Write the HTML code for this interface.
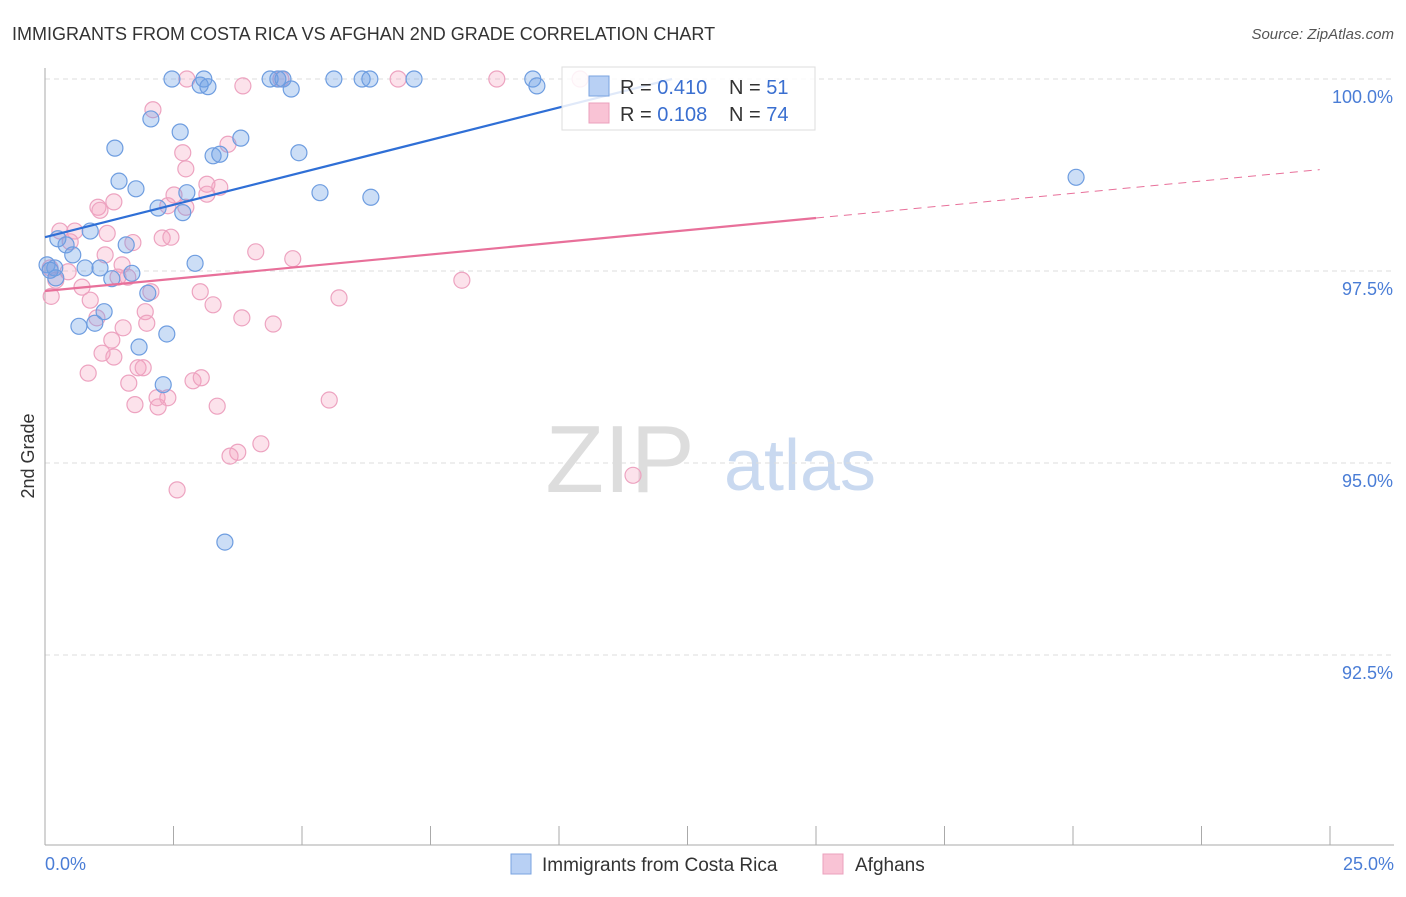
<!DOCTYPE html>
<html><head><meta charset="utf-8"><style>
body{margin:0;background:#fff;font-family:"Liberation Sans",sans-serif;}
svg text{font-family:"Liberation Sans",sans-serif;}
</style></head><body>
<svg id="chart" width="1406" height="892">
<text x="12" y="40" font-size="18" fill="#333">IMMIGRANTS FROM COSTA RICA VS AFGHAN 2ND GRADE CORRELATION CHART</text>
<text x="1394" y="39" font-size="15" fill="#555" font-style="italic" text-anchor="end">Source: ZipAtlas.com</text>
<text x="34" y="456" font-size="18" fill="#333" transform="rotate(-90 34 456)" text-anchor="middle">2nd Grade</text>
<text x="620" y="492" font-size="96" fill="#ddd" font-family="Liberation Serif" text-anchor="middle">ZIP</text>
<text x="800" y="490" font-size="72" fill="#c9d9f0" text-anchor="middle">atlas</text>
<g id="grid"></g><g id="pts"></g><g id="lines"></g>
<g>
<rect x="562" y="67" width="253" height="63" fill="rgba(255,255,255,0.85)" stroke="#ddd"/>
<rect x="589" y="76" width="20" height="20" fill="#b8d0f4" stroke="#7aa3e0"/>
<rect x="589" y="103" width="20" height="20" fill="#f9c3d5" stroke="#eba0bd"/>
<text x="620" y="94" font-size="20" fill="#333">R = <tspan fill="#3a6fd0">0.410</tspan></text>
<text x="729" y="94" font-size="20" fill="#333">N = <tspan fill="#3a6fd0"> 51</tspan></text>
<text x="620" y="121" font-size="20" fill="#333">R = <tspan fill="#3a6fd0">0.108</tspan></text>
<text x="729" y="121" font-size="20" fill="#333">N = <tspan fill="#3a6fd0"> 74</tspan></text>
</g>
<g>
<rect x="511" y="854" width="20" height="20" fill="#b8d0f4" stroke="#7aa3e0"/>
<text x="542" y="871" font-size="19" fill="#333">Immigrants from Costa Rica</text>
<rect x="823" y="854" width="20" height="20" fill="#f9c3d5" stroke="#eba0bd"/>
<text x="855" y="871" font-size="19" fill="#333">Afghans</text>
</g>
</svg>
<script>
const xTicks=[0,2.5,5,7.5,10,12.5,15,17.5,20,22.5,25];
const yTicks=[100,97.5,95,92.5];
const yTickLabels=["100.0%","97.5%","95.0%","92.5%"];
const blueX=[2.47,3.02,3.09,3.17,4.38,4.53,4.63,4.79,5.62,6.17,6.32,7.18,9.49,9.57,1.36,2.63,2.06,3.81,3.27,3.40,4.94,1.44,1.77,2.76,5.35,6.34,2.20,2.68,0.88,0.25,0.41,1.58,0.54,20.06,0.04,0.19,0.78,1.07,1.69,1.30,2.92,2.00,1.15,0.97,0.66,1.83,2.37,2.30,3.50,0.21,0.10];
const blueY=[100,99.92,100,99.90,100,100,100,99.87,100,100,100,100,100,99.91,99.10,99.31,99.48,99.23,99.00,99.02,99.04,98.67,98.57,98.52,98.52,98.46,98.32,98.26,98.02,97.92,97.84,97.84,97.71,98.72,97.58,97.54,97.54,97.54,97.47,97.40,97.60,97.21,96.97,96.82,96.78,96.51,96.68,96.02,93.97,97.41,97.51];
const pinkX=[2.76,3.85,4.59,6.87,8.79,10.41,2.10,2.68,3.56,2.74,3.15,3.40,2.51,3.15,1.03,1.34,2.39,2.74,1.07,0.29,0.58,1.21,0.49,1.71,2.28,2.45,4.10,4.82,1.17,1.50,8.11,0.10,0.45,0.21,1.42,1.61,0.72,2.06,3.02,0.12,0.88,3.27,5.72,1.95,3.83,4.44,1.01,1.98,1.52,1.30,1.11,1.34,0.84,1.81,1.91,1.63,2.88,3.04,1.75,2.20,2.18,2.39,3.35,5.53,3.75,3.60,4.20,2.57,11.44];
const pinkY=[100,99.91,100,100,100,100,99.60,99.04,99.15,98.83,98.63,98.59,98.49,98.50,98.33,98.40,98.35,98.33,98.29,98.02,98.02,97.99,97.88,97.87,97.93,97.94,97.75,97.66,97.71,97.58,97.38,97.54,97.49,97.38,97.42,97.42,97.29,97.23,97.23,97.17,97.12,97.06,97.15,96.97,96.89,96.81,96.89,96.82,96.76,96.60,96.43,96.38,96.17,96.24,96.24,96.04,96.07,96.11,95.76,95.73,95.85,95.85,95.74,95.82,95.14,95.09,95.25,94.65,94.84];
const blueTrend=[[0,97.94],[12.2,100]];
const pinkTrend=[[0,97.24],[15,98.19]];
const pinkDash=[[15,98.19],[24.8,98.82]];
const NS="http://www.w3.org/2000/svg";
const sx=v=>45+v/25*1285, sy=v=>79+(100-v)/2.5*192;
function mk(t,a,p){const e=document.createElementNS(NS,t);for(const k in a)e.setAttribute(k,a[k]);p.appendChild(e);return e;}
const grid=document.getElementById('grid');
yTicks.forEach((t,i)=>{
 const l=mk('line',{x1:45,x2:1394,y1:sy(t),y2:sy(t),stroke:'#ddd','stroke-dasharray':'5,4'},grid);
 
 
 const tx=mk('text',{x:1393,y:sy(t)+24,'font-size':18,fill:'#4a7dd6','text-anchor':'end'},grid);tx.textContent=yTickLabels[i];
 
 
});
const ax=mk('line',{x1:45,x2:1394,y1:845,y2:845,stroke:'#aaa'},grid);


const ay=mk('line',{x1:45,x2:45,y1:68,y2:845,stroke:'#aaa'},grid);


xTicks.forEach(t=>{const l=mk('line',{x1:sx(t),x2:sx(t),y1:826,y2:845,stroke:'#aaa'},grid);
 
 });
const x0=mk('text',{x:45,y:870,'font-size':18,fill:'#4a7dd6'},grid);x0.textContent='0.0%';


const x1=mk('text',{x:1394,y:870,'font-size':18,fill:'#4a7dd6','text-anchor':'end'},grid);x1.textContent='25.0%';


const pts=document.getElementById('pts');
pinkX.forEach((x,i)=>{const c=mk('circle',{cx:sx(x),cy:sy(pinkY[i]),r:8,fill:'rgba(244,160,190,0.3)',stroke:'#eda3c0','stroke-width':1.2},pts);
 
 });
blueX.forEach((x,i)=>{const c=mk('circle',{cx:sx(x),cy:sy(blueY[i]),r:8,fill:'rgba(110,160,230,0.35)',stroke:'#6e9de0','stroke-width':1.2},pts);
 
 });
const lines=document.getElementById('lines');
function ln(p,st,dash,name){const l=mk('line',{x1:sx(p[0][0]),y1:sy(p[0][1]),x2:sx(p[1][0]),y2:sy(p[1][1]),stroke:st,'stroke-width':dash?1:2.2},lines);if(dash)l.setAttribute('stroke-dasharray','8,6');
 
 }
ln(blueTrend,'#2f6fd6',false,'costa-rica-trendline');
ln(pinkTrend,'#e8709a',false,'afghan-trendline');
ln(pinkDash,'#e8709a',true,'afghan-trendline-extension');
</script>
</body></html>
